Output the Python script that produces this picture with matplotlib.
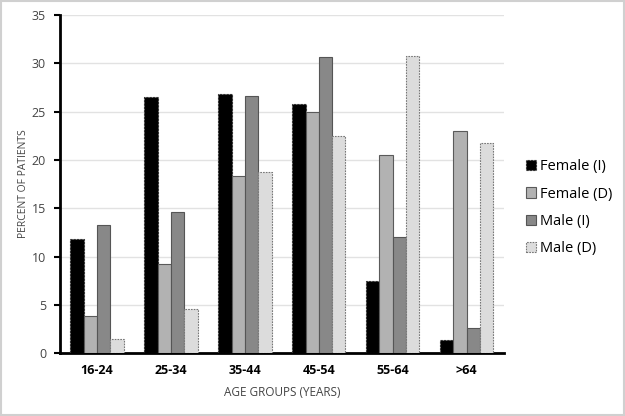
import numpy as np
import matplotlib.pyplot as plt
from matplotlib.patches import Rectangle

plt.rcParams['font.family'] = ['Open Sans', 'DejaVu Sans']

# data
groups = ['16-24', '25-34', '35-44', '45-54', '55-64', '>64']
female_i = [11.8, 26.5, 26.8, 25.8, 7.5, 1.4]
female_d = [3.8, 9.2, 18.3, 25.0, 20.5, 23.0]
male_i = [13.3, 14.6, 26.6, 30.6, 12.0, 2.6]
male_d = [1.5, 4.6, 18.7, 22.5, 30.8, 21.8]

series = [
    ('Female (I)', female_i, '#000000', '#333333', (0, (2, 1))),
    ('Female (D)', female_d, '#b2b2b2', '#5a5a5a', 'solid'),
    ('Male (I)', male_i, '#888888', '#555555', 'solid'),
    ('Male (D)', male_d, '#dcdcdc', '#777777', (0, (1.5, 1))),
]

fig = plt.figure(figsize=(6.25, 4.16), dpi=100)
ax = fig.add_axes([0.096, 0.151, 0.71, 0.813])

x = np.arange(len(groups))
w = 0.18
for k, (name, vals, fc, ec, ls) in enumerate(series):
    ax.bar(x + (k - 1.5) * w, vals, w, color=fc, edgecolor=ec,
           linewidth=0.8, linestyle=ls, label=name, zorder=3)

ax.set_xlim(-0.5, 5.5)
ax.set_ylim(0, 35)
ax.set_yticks(range(0, 36, 5))
ax.set_xticks(x)
ax.set_xticklabels(groups, fontweight='bold', fontsize=9)
ax.tick_params(axis='x', length=0, pad=8)
ax.tick_params(axis='y', labelsize=9, labelcolor='#444444', length=4,
               width=1.5, direction='out', pad=6)
ax.yaxis.grid(True, color='#e2e2e2', linewidth=1, zorder=0)
for s in ['top', 'right']:
    ax.spines[s].set_visible(False)
ax.spines['left'].set_linewidth(2)
ax.spines['bottom'].set_linewidth(2)

ax.set_ylabel('PERCENT OF PATIENTS', fontsize=7.5, color='#444444', labelpad=2)
ax.set_xlabel('AGE GROUPS (YEARS)', fontsize=8.5, color='#444444', labelpad=6)

ax.legend(loc='center left', bbox_to_anchor=(1.036, 0.43), frameon=False,
          fontsize=10.5, handlelength=0.7, handleheight=0.7, handletextpad=0.3,
          labelspacing=0.85, borderaxespad=0)

fig.patches.append(Rectangle((0.002, 0.003), 0.996, 0.994, transform=fig.transFigure,
                             fill=False, edgecolor='#d0d0d0', linewidth=1.5))

fig.savefig('out.png')
